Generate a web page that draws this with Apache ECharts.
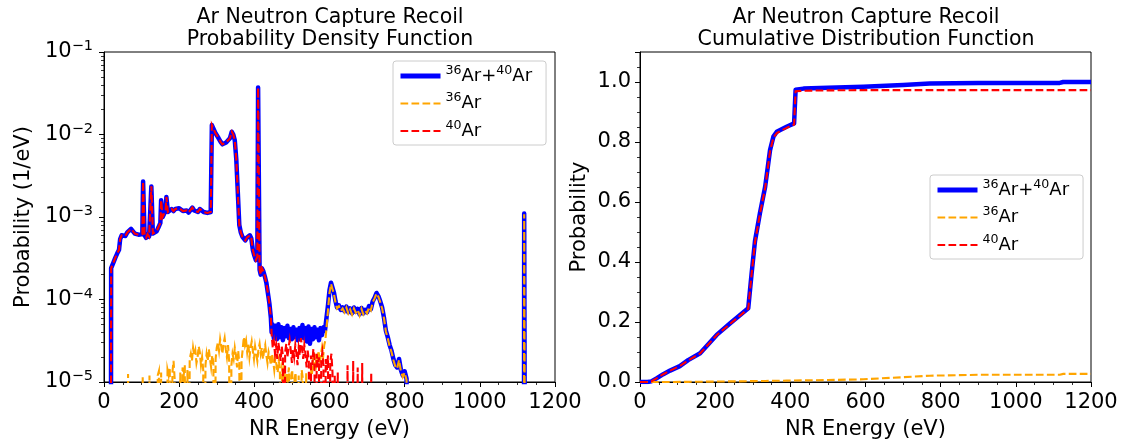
<!DOCTYPE html>
<html><head><meta charset="utf-8">
<script src="https://cdn.jsdelivr.net/npm/echarts@6/dist/echarts.min.js"></script>
<style>html,body{margin:0;padding:0;background:#fff}#c{width:1128px;height:446px}</style>
</head><body><div id="c"></div><script>
// ---------- data ----------
const seriesNames = ['36Ar+40Ar', '36Ar', '40Ar'];
const xTicks = [0, 200, 400, 600, 800, 1000, 1200];
const pdfTicks = [1e-5, 1e-4, 1e-3, 1e-2, 1e-1];
const cdfTicks = [0, 0.2, 0.4, 0.6, 0.8, 1.0];

// PDF, region where 40Ar == total (E in eV, probability in 1/eV)
const pdfLowPeak = [[0,0],[18,0],[19,2.4e-4],[25,2.8e-4],[30,3.2e-4],[35,3.6e-4],[40,4.0e-4],[43,5.4e-4],[47,6.0e-4],[52,6.2e-4],[57,5.9e-4],[62,6.5e-4],[67,6.2e-4],[72,7.2e-4],[77,7.3e-4],[82,6.3e-4],[87,6.5e-4],[92,6.1e-4],[97,6.4e-4],[102,6.2e-4],[104,2.7e-3],[106,2.6e-3],[108,6.0e-4],[112,5.6e-4],[116,6.2e-4],[120,5.8e-4],[124,6.0e-4],[126,2.35e-3],[128,2.3e-3],[130,6.3e-4],[135,6.6e-4],[140,6.7e-4],[145,7.5e-4],[150,8.5e-4],[152,1.6e-3],[154,1.55e-3],[156,1.0e-3],[160,1.05e-3],[164,1.2e-3],[166,1.75e-3],[168,1.7e-3],[170,1.15e-3],[175,1.2e-3],[180,1.25e-3],[185,1.18e-3],[190,1.25e-3],[195,1.2e-3],[200,1.28e-3],[205,1.22e-3],[210,1.18e-3],[215,1.15e-3],[220,1.2e-3],[225,1.13e-3],[230,1.18e-3],[235,1.3e-3],[240,1.2e-3],[245,1.25e-3],[250,1.15e-3],[255,1.25e-3],[260,1.22e-3],[265,1.15e-3],[270,1.2e-3],[275,1.12e-3],[280,1.1e-3],[284,1.15e-3],[287,1.3e-2],[291,1.25e-2],[296,1.05e-2],[300,1.0e-2],[305,9.0e-3],[310,8.2e-3],[315,7.6e-3],[320,7.8e-3],[325,8.0e-3],[330,8.2e-3],[335,9.0e-3],[340,1.08e-2],[344,1.0e-2],[348,8.5e-3],[352,5.0e-3],[356,2.0e-3],[360,8.0e-4],[364,6.5e-4],[368,5.8e-4],[372,6.0e-4],[376,5.2e-4],[380,5.6e-4],[384,5.3e-4],[388,6.0e-4],[392,5.5e-4],[396,4.0e-4],[400,3.4e-4],[404,3.0e-4],[408,3.3e-4],[410,3.7e-2],[412,3.6e-2],[414,2.3e-4],[417,2.0e-4],[420,2.4e-4],[424,2.2e-4],[428,1.9e-4],[432,1.6e-4],[436,1.2e-4],[440,9.0e-5],[444,6.0e-5]];

// PDF total, beyond 446 eV
const pdfTotalTail = [[446,4.0e-5],[448,5.0e-5],[452,3.4e-5],[456,4.8e-5],[460,3.3e-5],[464,5.0e-5],[468,3.5e-5],[472,4.6e-5],[476,3.2e-5],[480,4.5e-5],[484,3.6e-5],[488,4.8e-5],[492,3.4e-5],[496,4.4e-5],[500,3.3e-5],[504,4.6e-5],[508,3.5e-5],[512,4.3e-5],[516,3.2e-5],[520,4.5e-5],[524,3.6e-5],[528,4.9e-5],[532,3.4e-5],[536,4.5e-5],[540,3.1e-5],[544,4.7e-5],[548,2.9e-5],[552,4.4e-5],[556,3.3e-5],[560,4.6e-5],[564,3.5e-5],[568,4.3e-5],[572,3.2e-5],[576,4.5e-5],[580,3.7e-5],[584,4.6e-5],[588,4.2e-5],[592,6.0e-5],[596,8.5e-5],[600,1.3e-4],[604,1.6e-4],[608,1.55e-4],[612,1.2e-4],[616,9.5e-5],[620,8.0e-5],[625,8.5e-5],[630,7.5e-5],[635,8.0e-5],[640,7.2e-5],[645,8.2e-5],[650,7.0e-5],[655,7.8e-5],[660,6.8e-5],[665,8.0e-5],[670,7.1e-5],[675,7.7e-5],[680,6.6e-5],[685,7.9e-5],[690,6.8e-5],[695,7.5e-5],[700,7.0e-5],[705,8.3e-5],[710,7.6e-5],[715,9.5e-5],[720,1.05e-4],[725,1.2e-4],[730,1.1e-4],[735,9.5e-5],[740,8.0e-5],[745,6.0e-5],[750,4.2e-5],[755,3.5e-5],[760,2.8e-5],[765,2.4e-5],[770,1.9e-5],[775,1.6e-5],[780,1.5e-5],[785,1.9e-5],[790,1.4e-5],[795,1.2e-5],[800,1.35e-5],[805,1.1e-5],[810,1.15e-5],[812,0],[1117,0],[1118,1.1e-3],[1120,1.1e-3],[1121,0],[1200,0]];

// PDF 40Ar, beyond 446 eV
const pdf40Tail = [[446,3.8e-5],[449,2.6e-5],[452,3.1e-5],[455,2.2e-5],[458,2.8e-5],[461,1.9e-5],[464,3.0e-5],[467,2.4e-5],[470,1.8e-5],[473,2.7e-5],[476,2.1e-5],[479,0],[482,2.3e-5],[485,2.9e-5],[488,2.0e-5],[491,2.6e-5],[494,3.2e-5],[497,2.4e-5],[500,1.7e-5],[503,2.5e-5],[506,2.0e-5],[509,2.8e-5],[512,2.2e-5],[515,1.6e-5],[518,2.6e-5],[521,2.1e-5],[524,3.4e-5],[527,2.6e-5],[530,1.9e-5],[533,2.8e-5],[536,2.2e-5],[539,1.5e-5],[542,2.4e-5],[545,1.8e-5],[548,0],[551,2.1e-5],[554,1.6e-5],[557,2.5e-5],[560,1.9e-5],[563,0],[566,2.2e-5],[569,1.5e-5],[572,2.0e-5],[575,0],[578,1.8e-5],[581,2.3e-5],[584,1.6e-5],[587,0],[590,1.9e-5],[593,1.4e-5],[596,2.1e-5],[599,0],[602,1.7e-5],[605,2.2e-5],[608,1.3e-5],[611,0],[614,1.2e-5],[617,0],[622,1.3e-5],[625,0],[645,0],[648,1.6e-5],[651,0],[660,0],[663,1.8e-5],[666,0],[672,0],[675,1.5e-5],[678,0],[684,0],[687,1.7e-5],[690,0],[708,0],[711,1.3e-5],[714,0],[1200,0]];

// PDF 36Ar
const pdf36 = [[0,0],[62,0],[64,1.25e-5],[66,0],[101,0],[103,1.15e-5],[105,0],[119,0],[121,1.2e-5],[123,0],[140,0],[143,1.2e-5],[146,1.35e-5],[149,0],[152,1.3e-5],[155,0],[166,0],[169,1.4e-5],[172,1.2e-5],[175,1.5e-5],[178,0],[182,1.3e-5],[185,1.8e-5],[188,1.1e-5],[191,0],[200,0],[203,1.3e-5],[206,0],[209,1.5e-5],[212,1.2e-5],[215,1.6e-5],[218,0],[222,1.4e-5],[225,0],[228,1.9e-5],[231,2.2e-5],[234,1.8e-5],[237,2.6e-5],[240,2.1e-5],[243,2.4e-5],[246,1.7e-5],[249,2.0e-5],[252,2.7e-5],[255,2.3e-5],[258,1.6e-5],[261,2.0e-5],[264,1.4e-5],[267,0],[270,1.6e-5],[273,2.2e-5],[276,1.8e-5],[279,2.5e-5],[282,1.9e-5],[285,1.5e-5],[288,2.1e-5],[291,1.7e-5],[294,0],[297,1.9e-5],[300,2.6e-5],[303,3.0e-5],[306,2.4e-5],[309,3.3e-5],[312,2.7e-5],[315,2.2e-5],[318,2.9e-5],[321,3.4e-5],[324,2.5e-5],[327,2.0e-5],[330,2.8e-5],[333,1.8e-5],[336,0],[339,1.6e-5],[342,2.2e-5],[345,1.9e-5],[348,2.6e-5],[351,2.1e-5],[354,1.5e-5],[357,2.4e-5],[360,1.7e-5],[363,0],[366,1.8e-5],[369,2.5e-5],[372,3.5e-5],[375,2.8e-5],[378,3.2e-5],[381,2.3e-5],[384,2.9e-5],[387,2.0e-5],[390,2.6e-5],[393,3.1e-5],[396,2.4e-5],[399,1.9e-5],[402,2.7e-5],[405,2.2e-5],[408,1.8e-5],[411,2.5e-5],[414,2.9e-5],[417,2.2e-5],[420,2.6e-5],[423,1.9e-5],[426,2.4e-5],[429,2.8e-5],[432,2.1e-5],[435,1.7e-5],[438,2.3e-5],[441,2.0e-5],[444,1.6e-5],[447,2.2e-5],[450,1.8e-5],[453,1.4e-5],[456,2.0e-5],[459,1.6e-5],[462,1.3e-5],[465,1.8e-5],[468,1.5e-5],[471,0],[474,1.4e-5],[477,1.2e-5],[480,1.6e-5],[483,0],[486,1.3e-5],[489,1.1e-5],[492,1.5e-5],[495,0],[498,1.2e-5],[501,1.4e-5],[504,0],[507,1.1e-5],[510,1.3e-5],[513,0],[518,1.2e-5],[521,0],[526,1.4e-5],[529,1.1e-5],[532,0],[538,1.3e-5],[541,0],[550,1.5e-5],[553,1.2e-5],[556,1.8e-5],[559,1.4e-5],[562,2.2e-5],[565,1.6e-5],[568,1.9e-5],[571,2.4e-5],[574,1.7e-5],[577,2.1e-5],[580,2.6e-5],[583,2.0e-5],[586,2.8e-5],[589,3.2e-5],[592,4.5e-5],[596,7.5e-5],[600,1.2e-4],[604,1.55e-4],[608,1.5e-4],[612,1.15e-4],[616,9.2e-5],[620,7.8e-5],[625,8.3e-5],[630,7.3e-5],[635,7.8e-5],[640,7.0e-5],[645,8.0e-5],[650,6.8e-5],[655,7.6e-5],[660,6.6e-5],[665,7.8e-5],[670,6.9e-5],[675,7.5e-5],[680,6.4e-5],[685,7.7e-5],[690,6.6e-5],[695,7.3e-5],[700,6.8e-5],[705,8.1e-5],[710,7.4e-5],[715,9.3e-5],[720,1.03e-4],[725,1.18e-4],[730,1.08e-4],[735,9.3e-5],[740,7.8e-5],[745,5.9e-5],[750,4.1e-5],[755,3.4e-5],[760,2.7e-5],[765,2.3e-5],[770,1.85e-5],[775,1.55e-5],[780,1.45e-5],[785,1.85e-5],[790,1.35e-5],[795,1.15e-5],[800,1.3e-5],[805,1.05e-5],[810,1.1e-5],[812,0],[1117,0],[1118,1.08e-3],[1120,1.08e-3],[1121,0],[1200,0]];

// CDF
const cdfE     = [0, 20, 30, 44, 62, 80, 106, 128, 160, 204, 240, 288, 297, 306, 319, 333, 346, 355, 364, 390, 410, 414, 435, 500, 594, 700, 771, 900, 1117, 1126, 1200];
const cdfTotal = [0, 0, 0.002, 0.012, 0.026, 0.038, 0.053, 0.073, 0.096, 0.157, 0.196, 0.246, 0.362, 0.47, 0.562, 0.651, 0.773, 0.818, 0.834, 0.851, 0.862, 0.974, 0.978, 0.981, 0.984, 0.990, 0.995, 0.997, 0.997, 1.0, 1.0];
const cdf36    = [0, 0, 0, 0, 0, 0, 0.0003, 0.0005, 0.001, 0.0015, 0.002, 0.0025, 0.003, 0.003, 0.0033, 0.0035, 0.0038, 0.004, 0.0042, 0.0045, 0.005, 0.005, 0.0055, 0.0065, 0.009, 0.016, 0.021, 0.024, 0.024, 0.027, 0.027];
const cdf40    = [0, 0, 0.002, 0.012, 0.026, 0.038, 0.053, 0.072, 0.095, 0.156, 0.194, 0.244, 0.36, 0.467, 0.559, 0.647, 0.769, 0.814, 0.830, 0.847, 0.858, 0.969, 0.971, 0.972, 0.973, 0.973, 0.973, 0.973, 0.973, 0.973, 0.973];

// ---------- build ----------
const FONT = 'DejaVu Sans';
const BLUE = '#0000ff', ORANGE = '#ffa500', RED = '#ff0000';
const LOG_FLOOR = 1e-8; // zero bins drawn below the axis (clipped)
const toLog = arr => arr.map(([e, v]) => [e, v > 0 ? v : LOG_FLOOR]);
const pairs = (xs, ys) => xs.map((x, i) => [x, ys[i]]);

const legendText = {
  '36Ar+40Ar': '{s|36}{n|Ar+}{s|40}{n|Ar}',
  '36Ar': '{s|36}{n|Ar}',
  '40Ar': '{s|40}{n|Ar}'
};
function makeLegend(left, top) {
  return {
    left, top, orient: 'vertical', selectedMode: false,
    data: [
      { name: seriesNames[0], lineStyle: { width: 5 } },
      { name: seriesNames[1] },
      { name: seriesNames[2] }
    ],
    itemWidth: 40, itemHeight: 14, itemGap: 6.5, itemTextGap: 14,
    padding: [3, 14, 5, 5],
    backgroundColor: 'rgba(255,255,255,0.8)', borderColor: '#cccccc', borderWidth: 1, borderRadius: 3,
    itemStyle: { color: 'rgba(0,0,0,0)', borderColor: 'rgba(0,0,0,0)', borderWidth: 0, opacity: 0 },
    formatter: n => legendText[n],
    textStyle: {
      fontFamily: FONT, color: '#000', fontSize: 18,
      rich: {
        n: { fontFamily: FONT, fontSize: 18, lineHeight: 24, color: '#000' },
        s: { fontFamily: FONT, fontSize: 12.6, lineHeight: 13, verticalAlign: 'top', color: '#000' }
      }
    }
  };
}

const axisCommon = {
  axisLine: { show: true, onZero: false, lineStyle: { color: '#000', width: 1 } },
  axisTick: { show: true, inside: false, length: 5, lineStyle: { color: '#000', width: 1 } },
  minorTick: { show: true, length: 3, lineStyle: { color: '#000', width: 0.8 } },
  splitLine: { show: false }, minorSplitLine: { show: false },
  nameLocation: 'middle',
  nameTextStyle: { fontFamily: FONT, fontSize: 21, color: '#000' }
};
function xAxis(gridIndex) {
  return Object.assign({}, axisCommon, {
    type: 'value', gridIndex,
    min: xTicks[0], max: xTicks[xTicks.length - 1], interval: xTicks[1] - xTicks[0],
    minorTick: Object.assign({}, axisCommon.minorTick, { splitNumber: 4 }),
    axisLabel: { fontFamily: FONT, fontSize: 21, color: '#000', margin: 10, formatter: v => String(v) },
    name: 'NR Energy (eV)', nameGap: 37
  });
}

const lineS = (name, data, xi, color, width, dashed, z) => ({
  type: 'line', name, data, xAxisIndex: xi, yAxisIndex: xi,
  symbol: 'none', showSymbol: false, clip: true, animation: false, z,
  itemStyle: { color },
  lineStyle: { color, width, type: dashed ? [7.7, 3.3] : 'solid', cap: 'butt', join: dashed ? 'miter' : 'round' },
  emphasis: { disabled: true }
});

const option = {
  backgroundColor: '#fff',
  animation: false,
  title: [
    { text: 'Ar Neutron Capture Recoil\nProbability Density Function', left: 330, top: 7, textAlign: 'center', padding: 0,
      textStyle: { fontFamily: FONT, fontSize: 20.5, fontWeight: 'normal', color: '#000', lineHeight: 22 } },
    { text: 'Ar Neutron Capture Recoil\nCumulative Distribution Function', left: 866, top: 7, textAlign: 'center', padding: 0,
      textStyle: { fontFamily: FONT, fontSize: 20.5, fontWeight: 'normal', color: '#000', lineHeight: 22 } }
  ],
  legend: [makeLegend(393, 61), makeLegend(930, 175)],
  grid: [
    { left: 104, top: 52, width: 451, height: 330, show: true, borderColor: '#000', borderWidth: 1, backgroundColor: 'transparent' },
    { left: 640, top: 52, width: 451, height: 330, show: true, borderColor: '#000', borderWidth: 1, backgroundColor: 'transparent' }
  ],
  xAxis: [xAxis(0), xAxis(1)],
  yAxis: [
    Object.assign({}, axisCommon, {
      type: 'log', logBase: 10, gridIndex: 0,
      min: pdfTicks[0], max: pdfTicks[pdfTicks.length - 1],
      minorTick: Object.assign({}, axisCommon.minorTick, { splitNumber: 9 }),
      axisLabel: {
        margin: 11, color: '#000',
        formatter: v => '{b|10}{e|\u2212' + Math.round(-Math.log10(v)) + '}',
        rich: {
          b: { fontFamily: FONT, fontSize: 21, lineHeight: 26, color: '#000' },
          e: { fontFamily: FONT, fontSize: 14.5, lineHeight: 15, verticalAlign: 'top', color: '#000' }
        }
      },
      name: 'Probability (1/eV)', nameGap: 70
    }),
    Object.assign({}, axisCommon, {
      type: 'value', gridIndex: 1,
      min: cdfTicks[0], max: 1.1, interval: cdfTicks[1] - cdfTicks[0],
      minorTick: Object.assign({}, axisCommon.minorTick, { splitNumber: 4 }),
      axisLabel: { fontFamily: FONT, fontSize: 21, color: '#000', margin: 9, showMaxLabel: false,
        formatter: v => (v > cdfTicks[cdfTicks.length - 1] + 1e-9) ? '' : v.toFixed(1) },
      name: 'Probability', nameGap: 50
    })
  ],
  series: [
    lineS(seriesNames[0], toLog(pdfLowPeak.concat(pdfTotalTail)), 0, BLUE, 4.5, false, 2),
    lineS(seriesNames[1], toLog(pdf36), 0, ORANGE, 2.1, true, 3),
    lineS(seriesNames[2], toLog(pdfLowPeak.concat(pdf40Tail)), 0, RED, 2.1, true, 4),
    lineS(seriesNames[0], pairs(cdfE, cdfTotal), 1, BLUE, 4.5, false, 2),
    lineS(seriesNames[1], pairs(cdfE, cdf36), 1, ORANGE, 2.1, true, 3),
    lineS(seriesNames[2], pairs(cdfE, cdf40), 1, RED, 2.1, true, 4)
  ]
};
const chart = echarts.init(document.getElementById('c'), null, { renderer: 'canvas' });
chart.setOption(option);
</script></body></html>
